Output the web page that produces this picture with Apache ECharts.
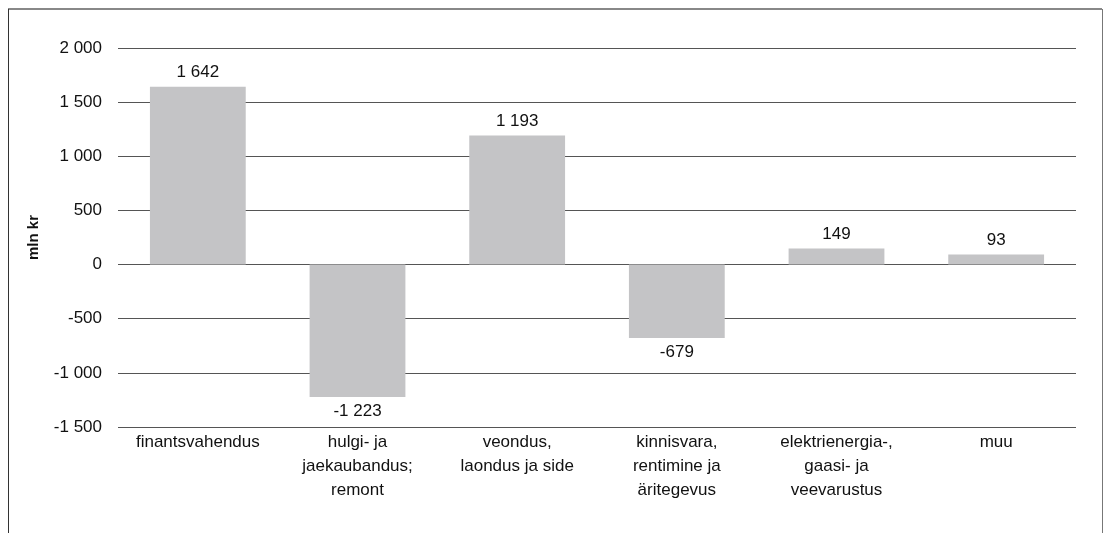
<!DOCTYPE html>
<html><head><meta charset="utf-8">
<script src="https://cdn.jsdelivr.net/npm/echarts@6/dist/echarts.min.js"></script>
<style>html,body{margin:0;padding:0;background:#fff}#c{width:1104px;height:533px}</style>
</head><body><div id="c"></div>
<script>
const categories = ["finantsvahendus", "hulgi- ja\njaekaubandus;\nremont", "veondus,\nlaondus ja side", "kinnisvara,\nrentimine ja\näritegevus", "elektrienergia-,\ngaasi- ja\nveevarustus", "muu"];
const values = [1642, -1223, 1193, -679, 149, 93];
const yTicks = [-1500, 2000, 500];
const yAxisName = "mln kr";

function fmt(v){
  const s = Math.abs(v).toString().replace(/\B(?=(\d{3})+(?!\d))/g, ' ');
  return (v < 0 ? '-' : '') + s;
}
const font = 'Liberation Sans, Arial, Helvetica, sans-serif';
const chart = echarts.init(document.getElementById('c'), null, {renderer:'canvas'});
chart.setOption({
  animation:false,
  grid:{left:118, right:28, top:48, bottom:106, containLabel:false},
  graphic:[
    {type:'line', shape:{x1:8,y1:9,x2:1102,y2:9}, style:{stroke:'#888', lineWidth:2}, z:100},
    {type:'line', shape:{x1:8.5,y1:9,x2:8.5,y2:533}, style:{stroke:'#333', lineWidth:1}, z:100},
    {type:'line', shape:{x1:1102.5,y1:9,x2:1102.5,y2:533}, style:{stroke:'#777', lineWidth:1}, z:100}
  ],
  xAxis:{type:'category', data:categories,
    axisLine:{show:false}, axisTick:{show:false},
    axisLabel:{interval:0, color:'#111', fontFamily:font, fontSize:17, lineHeight:24, margin:3}},
  yAxis:{type:'value', min:yTicks[0], max:yTicks[1], interval:yTicks[2],
    name:yAxisName, nameLocation:'middle', nameGap:77, nameRotate:90,
    nameTextStyle:{fontFamily:font, fontSize:15, fontWeight:'bold', color:'#111'},
    axisLine:{show:false}, axisTick:{show:false},
    axisLabel:{formatter:fmt, color:'#111', fontFamily:font, fontSize:17, margin:16},
    splitLine:{lineStyle:{color:'#555', width:1.2}}},
  series:[{type:'bar', barWidth:'60%',
    itemStyle:{color:'#c4c4c6'},
    data:values.map(v=>({value:v, label:{position: v<0 ? 'bottom' : 'top'}})),
    label:{show:true, formatter:p=>fmt(p.value), color:'#111', fontFamily:font, fontSize:17, distance:6}
  }]
});
</script></body></html>
